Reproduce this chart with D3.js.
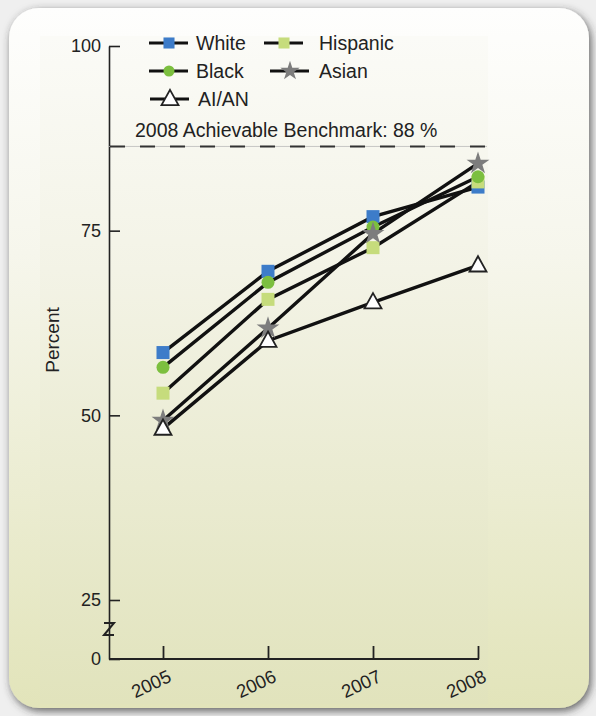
<!DOCTYPE html>
<html>
<head>
<meta charset="utf-8">
<script src="https://cdn.jsdelivr.net/npm/d3@7"></script>
<style>
  html, body { margin: 0; padding: 0; background: #eeeeee; }
  svg { display: block; font-family: "Liberation Sans", Arial, Helvetica, sans-serif; }
</style>
</head>
<body>
<svg id="chart" width="596" height="716"></svg>
<script>
// ---- data ----
const years = ["2005", "2006", "2007", "2008"];
const seriesNames = ["White", "Hispanic", "Black", "Asian", "AI/AN"];
const whiteValues    = [58.5, 69.5, 76.9, 80.9];
const hispanicValues = [53.0, 65.7, 72.7, 81.6];
const blackValues    = [56.5, 68.0, 75.5, 82.3];
const asianValues    = [49.3, 61.8, 74.6, 84.1];
const aianValues     = [48.2, 60.1, 65.3, 70.3];
const yTickValues = [0, 25, 50, 75, 100];
const benchmarkValue = 86.4;
const benchmarkLabel = "2008 Achievable Benchmark: 88 %";
const yAxisTitle = "Percent";

const seriesValues = {
  "White": whiteValues, "Hispanic": hispanicValues, "Black": blackValues,
  "Asian": asianValues, "AI/AN": aianValues
};
const markerStyle = {
  "White":    { type: "square",   fill: "#3d7cc9", size: 13 },
  "Hispanic": { type: "square",   fill: "#c6dc7c", size: 13 },
  "Black":    { type: "circle",   fill: "#7cbf3f", size: 13 },
  "Asian":    { type: "star",     fill: "#7d7d7d", size: 18 },
  "AI/AN":    { type: "triangle", fill: "#ffffff", size: 17 }
};

const svg = d3.select("#chart");

// ---- background card ----
const defs = svg.append("defs");
const g1 = defs.append("linearGradient").attr("id", "cardGrad").attr("x1", 0).attr("y1", 0).attr("x2", 0).attr("y2", 1);
g1.append("stop").attr("offset", "0%").attr("stop-color", "#fefefd");
g1.append("stop").attr("offset", "35%").attr("stop-color", "#f6f6ec");
g1.append("stop").attr("offset", "100%").attr("stop-color", "#e2e4ba");
const g2 = defs.append("linearGradient").attr("id", "panelGrad").attr("x1", 0).attr("y1", 0).attr("x2", 0).attr("y2", 1);
g2.append("stop").attr("offset", "0%").attr("stop-color", "#fbfbf7");
g2.append("stop").attr("offset", "35%").attr("stop-color", "#f3f3e6");
g2.append("stop").attr("offset", "100%").attr("stop-color", "#e1e3bc");
const flt = defs.append("filter").attr("id", "shadow").attr("x", "-10%").attr("y", "-10%").attr("width", "120%").attr("height", "120%");
flt.append("feDropShadow").attr("dx", 2).attr("dy", 3).attr("stdDeviation", 4).attr("flood-color", "#333").attr("flood-opacity", 0.75);

svg.append("rect").attr("width", 596).attr("height", 716).attr("fill", "#efefef");
svg.append("rect").attr("x", 9).attr("y", 8).attr("width", 580).attr("height", 700)
  .attr("rx", 30).attr("fill", "url(#cardGrad)").attr("filter", "url(#shadow)");
svg.append("rect").attr("x", 40).attr("y", 36).attr("width", 448).attr("height", 668)
  .attr("fill", "url(#panelGrad)");

// ---- scales ----
const y = d3.scaleLinear().domain([0, 25, 100]).range([659, 600, 46]);
const x = d3.scalePoint().domain(years).range([163, 478]);
const axisX0 = 109;

// ---- y axis ----
const yAxis = svg.append("g").attr("transform", `translate(${axisX0},0)`)
  .call(d3.axisLeft(y).tickValues(yTickValues).tickSizeInner(-11).tickSizeOuter(0).tickPadding(8));
yAxis.select(".domain").attr("stroke", "#222").attr("stroke-width", 1.6);
yAxis.selectAll(".tick line").attr("stroke", "#222").attr("stroke-width", 1.6);
yAxis.selectAll(".tick text").attr("font-size", 18).attr("fill", "#222")
  .attr("font-family", "Liberation Sans, Arial, sans-serif");

// axis break mark
const zy = 629;
svg.append("path")
  .attr("d", `M${axisX0 - 5},${zy - 6} L${axisX0 + 5},${zy - 6} L${axisX0 - 5},${zy + 6} L${axisX0 + 5},${zy + 6}`)
  .attr("fill", "none").attr("stroke", "#222").attr("stroke-width", 2);

// y title
svg.append("text").attr("transform", "translate(59,340) rotate(-90)")
  .attr("text-anchor", "middle").attr("font-size", 19).attr("fill", "#222").text(yAxisTitle);

// ---- x axis ----
const xAxis = svg.append("g").attr("transform", `translate(0,${y(0)})`)
  .call(d3.axisBottom(x).tickSizeInner(-13).tickSizeOuter(0).tickPadding(0));
xAxis.select(".domain").remove();
xAxis.selectAll(".tick line").attr("stroke", "#222").attr("stroke-width", 1.8);
xAxis.selectAll(".tick text")
  .attr("font-size", 18.5).attr("fill", "#222").attr("text-anchor", "end")
  .attr("y", 0).attr("dy", 0)
  .attr("transform", "translate(9,22) rotate(-25)");
svg.append("line").attr("x1", axisX0).attr("x2", x("2008") + 1)
  .attr("y1", y(0)).attr("y2", y(0)).attr("stroke", "#222").attr("stroke-width", 1.8);

// ---- benchmark ----
svg.append("line").attr("x1", axisX0).attr("x2", 487)
  .attr("y1", y(benchmarkValue)).attr("y2", y(benchmarkValue))
  .attr("stroke", "#bbb").attr("stroke-width", 0.8);
svg.append("line").attr("x1", axisX0 + 1).attr("x2", 487)
  .attr("y1", y(benchmarkValue)).attr("y2", y(benchmarkValue))
  .attr("stroke", "#333").attr("stroke-width", 2).attr("stroke-dasharray", "15,15");
svg.append("text").attr("x", 135).attr("y", y(benchmarkValue) - 9)
  .attr("font-size", 19.5).attr("fill", "#222").text(benchmarkLabel);

// ---- markers ----
function drawMarker(sel, name, cx, cy, scale) {
  const st = markerStyle[name];
  const s = st.size * (scale || 1);
  if (st.type === "square") {
    sel.append("rect").attr("x", cx - s / 2).attr("y", cy - s / 2).attr("width", s).attr("height", s)
      .attr("fill", st.fill);
  } else if (st.type === "circle") {
    sel.append("circle").attr("cx", cx).attr("cy", cy).attr("r", s / 2).attr("fill", st.fill);
  } else if (st.type === "star") {
    const sym = d3.symbol().type(d3.symbolStar).size(s * s * 0.5);
    sel.append("path").attr("d", sym()).attr("transform", `translate(${cx},${cy})`).attr("fill", st.fill);
  } else if (st.type === "triangle") {
    const h = s * 0.9;
    sel.append("path")
      .attr("d", `M${cx},${cy - h * 0.6} L${cx + s / 2},${cy + h * 0.4} L${cx - s / 2},${cy + h * 0.4} Z`)
      .attr("fill", st.fill).attr("stroke", "#222").attr("stroke-width", 1.8);
  }
}

// ---- lines ----
const line = d3.line().x((d, i) => x(years[i])).y(d => y(d));
const lineLayer = svg.append("g");
seriesNames.forEach(name => {
  lineLayer.append("path").datum(seriesValues[name]).attr("d", line)
    .attr("fill", "none").attr("stroke", "#111").attr("stroke-width", 3.4);
});
const markerOrder = ["White", "Hispanic", "Black", "Asian", "AI/AN"];
const markerLayer = svg.append("g");
markerOrder.forEach(name => {
  seriesValues[name].forEach((v, i) => drawMarker(markerLayer, name, x(years[i]), y(v)));
});

// ---- legend ----
const legendItems = [
  { name: "White",    lx: 149, ly: 43, tx: 196 },
  { name: "Hispanic", lx: 264, ly: 43, tx: 319 },
  { name: "Black",    lx: 149, ly: 71, tx: 196 },
  { name: "Asian",    lx: 270, ly: 71, tx: 319 },
  { name: "AI/AN",    lx: 150, ly: 99, tx: 198 }
];
const legend = svg.append("g");
legendItems.forEach(it => {
  legend.append("line").attr("x1", it.lx).attr("x2", it.lx + 39).attr("y1", it.ly).attr("y2", it.ly)
    .attr("stroke", "#111").attr("stroke-width", 3.2);
  drawMarker(legend, it.name, it.lx + 20, it.ly, it.name === "AI/AN" ? 1 : 0.85);
  legend.append("text").attr("x", it.tx).attr("y", it.ly + 7).attr("font-size", 19.5)
    .attr("fill", "#222").text(it.name);
});
</script>
</body>
</html>
